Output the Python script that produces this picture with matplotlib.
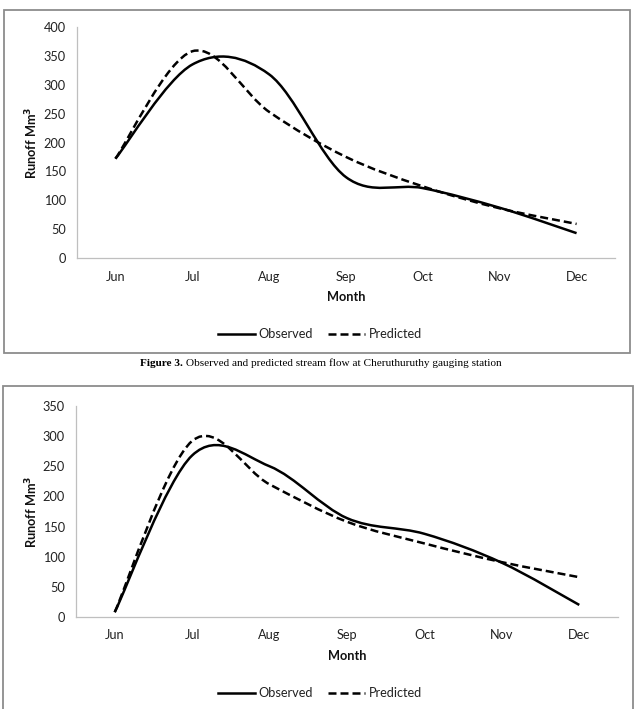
"""
Observed vs predicted stream flow - two Excel-style smoothed line charts.
"""
import matplotlib
matplotlib.use('Agg')
import matplotlib.pyplot as plt
from matplotlib.path import Path
from matplotlib.patches import PathPatch, Rectangle
from matplotlib.lines import Line2D

months = ['Jun', 'Jul', 'Aug', 'Sep', 'Oct', 'Nov', 'Dec']

# Figure 3 (Cheruthuruthy)
obs_top = [172, 335, 318, 140, 121, 87, 43]
pred_top = [172, 358, 253, 175, 124, 86, 59]

# second station chart
obs_bot = [8, 268, 250, 164, 138, 90, 20]
pred_bot = [8, 292, 220, 158, 122, 91, 66]

W, H = 639, 709
FS = 9.2
plt.rcParams['font.family'] = ['Lato', 'DejaVu Sans']

fig = plt.figure(figsize=(W / 100, H / 100), dpi=100)


def fx(px):
    return px / W


def fy(py):
    return 1 - py / H


def smooth_path(ys):
    """Bezier path through the points, like Excel's 'smoothed line'."""
    pts = list(enumerate(ys))
    n = len(pts)
    verts = [pts[0]]
    codes = [Path.MOVETO]
    for i in range(n - 1):
        p0 = pts[max(i - 1, 0)]
        p1 = pts[i]
        p2 = pts[i + 1]
        p3 = pts[min(i + 2, n - 1)]
        c1 = (p1[0] + (p2[0] - p0[0]) / 6, p1[1] + (p2[1] - p0[1]) / 6)
        c2 = (p2[0] - (p3[0] - p1[0]) / 6, p2[1] - (p3[1] - p1[1]) / 6)
        verts += [c1, c2, p2]
        codes += [Path.CURVE4] * 3
    return Path(verts, codes)


LW = 1.8
DASH = (0, (3.2, 1.6))


def draw_chart(box, ax_px, ymax, obs, pred, tick_y, month_y, legend_y):
    # outer frame
    x0, y0, x1, y1 = box
    fig.patches.append(Rectangle((fx(x0), fy(y1)), fx(x1 - x0), (y1 - y0) / H,
                                 transform=fig.transFigure, fill=False,
                                 edgecolor='#8c8c8c', linewidth=1.3))

    l, t, r, b = ax_px
    ax = fig.add_axes([fx(l), fy(b), fx(r - l), (b - t) / H])
    ax.set_xlim(-0.5, len(months) - 0.5)
    ax.set_ylim(0, ymax)
    ax.set_yticks(range(0, ymax + 1, 50))
    ax.set_xticks(range(len(months)))
    ax.set_xticklabels(months)
    for s in ['top', 'right']:
        ax.spines[s].set_visible(False)
    for s in ['left', 'bottom']:
        ax.spines[s].set_color('#bfbfbf')
        ax.spines[s].set_linewidth(0.9)
    ax.tick_params(length=0, labelsize=FS, colors='#222222')
    ax.tick_params(axis='y', pad=8)
    ax.tick_params(axis='x', pad=(tick_y - b - 6) * 0.72)

    ax.add_patch(PathPatch(smooth_path(obs), fill=False, edgecolor='black',
                           linewidth=LW, capstyle='butt'))
    ax.add_patch(PathPatch(smooth_path(pred), fill=False, edgecolor='black',
                           linewidth=LW, linestyle=DASH, capstyle='butt'))

    fig.text(fx((l + r) / 2), fy(month_y), 'Month', ha='center', va='center',
             fontsize=FS, fontweight='bold', color='#111111')
    fig.text(fx(32), fy((t + b) / 2), 'Runoff Mm$^{\\mathbf{3}}$', rotation=90,
             ha='center', va='center', fontsize=FS, fontweight='bold',
             color='#111111')

    handles = [Line2D([], [], color='black', linewidth=LW),
               Line2D([], [], color='black', linewidth=LW, linestyle=DASH)]
    fig.legend(handles, ['Observed', 'Predicted'], loc='center',
               bbox_to_anchor=(fx(320), fy(legend_y)), ncol=2, frameon=False,
               fontsize=FS, handlelength=2.9, handletextpad=0.3,
               columnspacing=1.2, labelcolor='#222222')
    return ax


draw_chart((4, 10, 630, 353), (77, 27, 615, 258), 400, obs_top, pred_top,
           277, 297, 334)
draw_chart((3, 386, 633, 720), (76, 406, 618, 617), 350, obs_bot, pred_bot,
           635, 656, 693)

# caption between the two charts: bold label, then plain text after it
cap_size = 8.1
cap1 = fig.text(fx(140), fy(364), 'Figure 3.', ha='left', va='center',
                fontsize=cap_size, fontweight='bold', family='Liberation Serif')
fig.canvas.draw()
bb = cap1.get_window_extent()
fig.text(bb.x1 / W, bb.y0 / H,
         ' Observed and predicted stream flow at Cheruthuruthy gauging station',
         fontsize=cap_size, family='Liberation Serif', ha='left', va='bottom')

fig.savefig('out.png', dpi=100)
